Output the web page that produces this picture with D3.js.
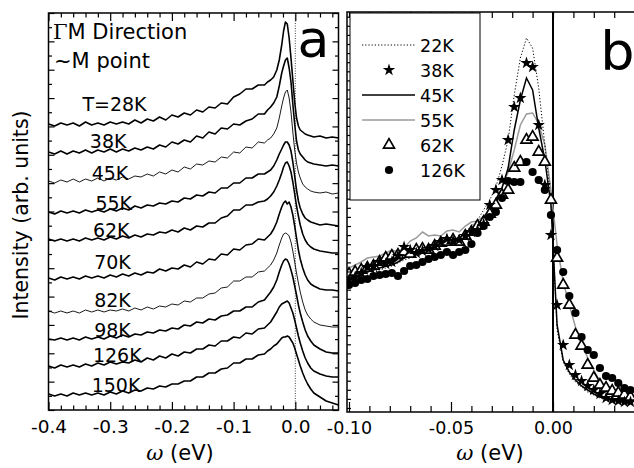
<!DOCTYPE html>
<html>
<head>
<meta charset="utf-8">
<script src="https://cdn.jsdelivr.net/npm/d3@7"></script>
<style>
body { margin: 0; background: #fff; }
text { font-family: "DejaVu Sans", sans-serif; fill: #000; }
</style>
</head>
<body>
<script>
// ---- panel a : stacked EDCs, gamma-M direction near M ----
var energyA = [-0.40,-0.39,-0.38,-0.37,-0.36,-0.35,-0.34,-0.33,-0.32,-0.31,-0.30,-0.29,-0.28,-0.27,-0.26,-0.25,-0.24,-0.23,-0.22,-0.21,-0.20,-0.19,-0.18,-0.17,-0.16,-0.15,-0.14,-0.13,-0.12,-0.11,-0.10,-0.09,-0.08,-0.07,-0.06,-0.05,
  -0.045,-0.04,-0.035,-0.03,-0.026,-0.022,-0.019,-0.016,-0.013,-0.010,-0.007,-0.004,-0.001,0.002,0.005,0.008,0.012,0.016,0.020,0.025,0.030,0.040,0.050,0.060,0.070];

// intensities already include the vertical offsets
var edc28 = [286,284,287,285,287,284,288,285,287,285,288,286,288,286,290,287,291,289,293,290,295,293,297,295,300,298,303,302,307,306,313,316,321,321,325,325,
  328,330,333,340,350,365,379,388,386,372,352,330,308,292,284,280,278,276,275,274,273,274,272,273,272];
var edc38 = [258,256,259,256,259,257,260,257,260,258,261,258,261,259,262,260,263,261,265,263,268,266,270,268,274,272,278,276,282,281,286,285,289,291,296,296,
  300,303,307,313,324,337,344,350,352,342,328,306,286,269,260,256,253,250,248,247,246,245,244,245,244];
var edc45 = [229,227,230,228,231,228,231,229,232,229,232,230,233,231,234,233,236,234,238,236,240,238,243,241,246,245,249,248,253,252,258,257,263,262,268,267,
  270,272,276,282,292,304,312,318,320,312,298,278,260,247,238,232,226,223,221,219,218,217,218,216,217];
var edc55 = [198,196,199,197,199,197,200,198,200,198,201,199,202,200,204,202,205,204,207,206,209,208,212,211,215,214,218,217,222,222,227,227,232,232,236,236,
  238,240,244,250,256,261,265,268,268,265,259,248,234,220,209,202,196,192,190,188,187,185,186,185,184];
var edc62 = [171,169,171,169,171,169,172,170,172,170,173,171,174,172,175,173,176,175,178,177,180,178,182,180,184,183,187,187,192,194,200,200,205,205,208,209,
  211,214,218,224,230,237,243,247,248,244,238,228,216,204,194,185,176,170,166,163,161,159,158,157,157];
var edc70 = [132,130,133,131,133,131,134,132,134,132,135,133,136,134,137,135,138,137,141,139,142,141,145,143,148,146,151,150,156,155,161,160,165,166,171,170,
  173,176,181,188,196,203,207,209,206,208,203,195,184,172,160,151,142,135,130,126,124,121,120,120,119];
var edc82 = [99,97,99,97,99,97,100,98,100,98,100,99,101,99,102,100,103,101,104,103,106,105,109,108,112,112,116,117,122,123,129,129,133,133,138,139,
  142,145,150,157,165,172,176,177,176,174,168,159,148,137,127,118,108,100,95,91,88,85,84,83,83];
var edc98 = [71,70,72,70,72,70,73,71,73,71,74,72,75,73,76,75,78,77,80,79,82,81,85,84,88,87,91,90,94,95,99,99,103,103,108,110,
  114,118,123,130,138,145,149,151,150,146,140,133,124,115,105,97,88,80,74,69,65,61,58,57,57];
var edc126 = [44,42,45,43,45,43,46,44,47,45,48,46,48,47,50,48,52,50,54,52,56,54,58,57,61,61,65,64,69,69,73,72,77,76,81,82,
  85,88,93,98,103,106,107,108,109,107,102,97,90,82,74,67,59,52,47,42,39,36,34,33,33];
var edc150 = [16,14,16,14,17,15,17,15,17,15,18,16,19,17,20,19,22,21,24,23,26,26,29,29,33,33,37,37,41,42,47,47,51,51,55,56,
  59,61,64,66,69,72,73,73,74,73,70,67,62,56,50,44,37,31,26,21,17,13,9,7,5];

var labelsA = ["T=28K","38K","45K","55K","62K","70K","82K","98K","126K","150K"];
var labelE = [-0.345,-0.333,-0.330,-0.324,-0.328,-0.326,-0.326,-0.326,-0.328,-0.330];
var labelI = [299,262,230,200,173,141,103,73,48,18];

// ---- panel b : EDCs at several temperatures, overlaid ----
var energyB = [-0.100,-0.097,-0.094,-0.091,-0.088,-0.085,-0.082,-0.079,-0.076,-0.073,-0.070,-0.067,-0.064,-0.061,-0.058,-0.055,-0.052,-0.049,-0.046,-0.043,
  -0.040,-0.037,-0.034,-0.031,-0.028,-0.025,-0.022,-0.019,-0.016,-0.013,-0.010,-0.007,-0.004,-0.001,0.002,0.005,0.008,0.011,0.014,0.017,
  0.020,0.023,0.026,0.029,0.032,0.035,0.038];
var b22 = [130,133,135,137,139,142,144,146,149,152,154,157,160,162,164,167,170,172,176,180,186,192,202,212,225,246,272,317,354,374,
  364,324,267,212,82,50,38,30,25,20,17,14,12,11,10,9,8];
var b38 = [132,135,139,145,146,150,148,150,156,165,162,159,161,163,166,170,173,171,172,176,180,182,188,207,222,232,272,305,314,349,
  345,287,227,177,107,67,47,37,31,26,22,18,14,12,11,10,10];
var b45 = [134,136,138,140,142,144,146,147,150,154,156,159,162,162,165,168,170,172,174,177,181,185,190,198,209,224,244,282,312,334,
  322,284,252,207,87,52,40,32,26,22,18,15,13,12,11,10,9];
var b55 = [144,147,150,154,155,156,159,162,160,164,171,174,180,176,177,176,181,182,180,186,190,191,196,201,212,225,240,262,287,298,
  299,288,267,222,167,130,107,85,70,54,42,31,25,20,16,14,12];
var b62 = [138,140,142,144,146,150,154,156,157,160,158,162,163,162,166,169,170,172,170,176,180,186,190,198,207,217,222,244,250,272,
  275,260,250,212,154,127,107,77,66,47,34,27,24,21,19,17,15];
var b126 = [127,129,132,133,136,137,138,139,136,141,146,147,150,153,155,157,160,157,160,162,168,179,186,195,200,214,231,230,230,250,
  240,232,222,197,162,140,116,99,75,62,57,44,36,34,29,24,22];
var legendB = ["22K","38K","45K","55K","62K","126K"];

var svg = d3.select("body").append("svg")
    .attr("width", 634)
    .attr("height", 468);

function tickRow(axisFn, scale, vals, size, transform) {
    svg.append("g").attr("transform", transform)
        .call(axisFn(scale).tickValues(vals).tickSize(size).tickFormat(""))
        .call(g => g.select(".domain").remove())
        .selectAll("line").attr("stroke-width", 1.2);
}

// ================= panel a =================
var xA = d3.scaleLinear().domain([-0.4, 0.07]).range([48.5, 338.5]);
var yA = d3.scaleLinear().domain([0, 397]).range([410, 13]);

svg.append("clipPath").attr("id", "clipA").append("rect")
    .attr("x", 48.5).attr("y", 13).attr("width", 290).attr("height", 397);

// Fermi level
svg.append("line")
    .attr("x1", xA(0)).attr("x2", xA(0)).attr("y1", 13).attr("y2", 410)
    .attr("stroke", "#444").attr("stroke-width", 1).attr("stroke-dasharray", "1,1.5");

var curvesA = [edc28, edc38, edc45, edc55, edc62, edc70, edc82, edc98, edc126, edc150];
var lineA = d3.line().x((d, i) => xA(energyA[i])).y(d => yA(d));

svg.append("g").attr("clip-path", "url(#clipA)")
    .selectAll("path").data(curvesA).enter().append("path")
    .attr("d", lineA)
    .attr("fill", "none")
    .attr("stroke", "#000")
    .attr("stroke-linejoin", "round")
    .attr("stroke-width", (d, i) => (labelsA[i] == "45K" || labelsA[i] == "82K") ? 0.9 : 1.6);

svg.append("g").selectAll("text").data(labelsA).enter().append("text")
    .attr("x", (d, i) => xA(labelE[i]))
    .attr("y", (d, i) => yA(labelI[i]))
    .style("font-size", "19px")
    .text(d => d);

var majA = [-0.4, -0.3, -0.2, -0.1, 0.0];
var minA = d3.range(-0.38, 0.07, 0.02).filter(v => Math.abs(v * 10 - Math.round(v * 10)) > 0.01);
var yTicksA = d3.range(0, 29).map(i => i * 397 / 28);

tickRow(d3.axisBottom, xA, majA, -8, "translate(0,410)");
tickRow(d3.axisBottom, xA, minA, -4.5, "translate(0,410)");
tickRow(d3.axisTop, xA, majA, -8, "translate(0,13)");
tickRow(d3.axisTop, xA, minA, -4.5, "translate(0,13)");
tickRow(d3.axisLeft, yA, yTicksA.filter((d, i) => i % 2 == 0), -6, "translate(48.5,0)");
tickRow(d3.axisLeft, yA, yTicksA.filter((d, i) => i % 2 == 1), -3.5, "translate(48.5,0)");
tickRow(d3.axisRight, yA, yTicksA.filter((d, i) => i % 2 == 0), -6, "translate(338.5,0)");
tickRow(d3.axisRight, yA, yTicksA.filter((d, i) => i % 2 == 1), -3.5, "translate(338.5,0)");

svg.append("g").attr("transform", "translate(0,410)")
    .call(d3.axisBottom(xA).tickValues(majA).tickSize(0).tickPadding(10).tickFormat(d => d.toFixed(1)))
    .call(g => g.select(".domain").remove())
    .attr("font-family", null).attr("font-size", null)
    .selectAll("text").style("font-size", "18.5px");

svg.append("rect")
    .attr("x", 48.5).attr("y", 13).attr("width", 290).attr("height", 397)
    .attr("fill", "none").attr("stroke", "#000").attr("stroke-width", 1.5);

var title = svg.append("text").attr("x", 53).attr("y", 39).style("font-size", "21px");
title.append("tspan").style("font-family", "DejaVu Serif").text("\u0393");
title.append("tspan").text("M Direction");
svg.append("text").attr("x", 54).attr("y", 68).style("font-size", "21px").text("~M point");

svg.append("text").attr("x", 313.5).attr("y", 57).attr("text-anchor", "middle")
    .style("font-size", "52px").text("a");

svg.append("text")
    .attr("transform", "translate(28,215) rotate(-90)")
    .attr("text-anchor", "middle")
    .style("font-size", "20.5px")
    .text("Intensity (arb. units)");

function omegaTitle(x) {
    var t = svg.append("text").attr("x", x).attr("y", 460).attr("text-anchor", "middle").style("font-size", "21px");
    t.append("tspan").style("font-family", "DejaVu Serif").style("font-style", "italic").text("\u03c9");
    t.append("tspan").text(" (eV)");
}
omegaTitle(180);

// ================= panel b =================
var xB = d3.scaleLinear().domain([-0.1, 0.04]).range([349, 634.6]);
var yB = d3.scaleLinear().domain([0, 400]).range([412, 12]);

svg.append("clipPath").attr("id", "clipB").append("rect")
    .attr("x", 347).attr("y", 12).attr("width", 300).attr("height", 400);

var lineB = d3.line().x((d, i) => xB(energyB[i])).y(d => yB(d));
var gB = svg.append("g").attr("clip-path", "url(#clipB)");

gB.append("line")
    .attr("x1", xB(0)).attr("x2", xB(0)).attr("y1", 12).attr("y2", 412)
    .attr("stroke", "#000").attr("stroke-width", 2);

gB.append("path").attr("d", lineB(b55)).attr("fill", "none")
    .attr("stroke", "#9a9a9a").attr("stroke-width", 1.5);
gB.append("path").attr("d", lineB(b22)).attr("fill", "none")
    .attr("stroke", "#000").attr("stroke-width", 1).attr("stroke-dasharray", "1.2,2");
gB.append("path").attr("d", lineB(b45)).attr("fill", "none")
    .attr("stroke", "#000").attr("stroke-width", 1.5);

var triSym = d3.symbol().type(d3.symbolTriangle).size(52);
var starSym = d3.symbol().type(d3.symbolStar).size(48);

gB.selectAll(".tri").data(b62).enter().append("path").attr("class", "tri")
    .attr("d", triSym)
    .attr("transform", (d, i) => "translate(" + xB(energyB[i]) + "," + yB(d) + ")")
    .attr("fill", "#fff").attr("stroke", "#000").attr("stroke-width", 1.7);
gB.selectAll(".dot").data(b126).enter().append("circle").attr("class", "dot")
    .attr("cx", (d, i) => xB(energyB[i])).attr("cy", d => yB(d))
    .attr("r", 4.1).attr("fill", "#000");
gB.selectAll(".star").data(b38).enter().append("path").attr("class", "star")
    .attr("d", starSym)
    .attr("transform", (d, i) => "translate(" + xB(energyB[i]) + "," + yB(d) + ")")
    .attr("fill", "#000");

var minB = d3.range(-0.09, 0.041, 0.01).filter(v => Math.abs(v * 20 - Math.round(v * 20)) > 0.01);
var majB = [-0.1, -0.05, 0];
tickRow(d3.axisBottom, xB, majB, -10, "translate(0,412)");
tickRow(d3.axisBottom, xB, minB, -6, "translate(0,412)");
tickRow(d3.axisTop, xB, majB.concat(minB), -6, "translate(0,12)");
tickRow(d3.axisLeft, yB, d3.range(4, 400, 9.1), -4, "translate(347,0)");

svg.append("g").attr("transform", "translate(0,412)")
    .call(d3.axisBottom(xB).tickValues(majB).tickSize(0).tickPadding(10).tickFormat(d => d.toFixed(2)))
    .call(g => g.select(".domain").remove())
    .attr("font-family", null).attr("font-size", null)
    .selectAll("text").style("font-size", "17.5px");

svg.append("rect")
    .attr("x", 347).attr("y", 12).attr("width", 320).attr("height", 400)
    .attr("fill", "none").attr("stroke", "#000").attr("stroke-width", 1.5);

// legend
var leg = svg.append("g");
leg.append("rect").attr("x", 350).attr("y", 13).attr("width", 130).attr("height", 187)
    .attr("fill", "#fff").attr("stroke", "#000").attr("stroke-width", 1);
var rowY = legendB.map((d, i) => 45 + i * 25);
leg.append("line").attr("x1", 362).attr("x2", 415).attr("y1", rowY[0]).attr("y2", rowY[0])
    .attr("stroke", "#000").attr("stroke-dasharray", "1.2,2");
leg.append("path").attr("d", starSym).attr("transform", "translate(389," + rowY[1] + ")");
leg.append("line").attr("x1", 362).attr("x2", 415).attr("y1", rowY[2]).attr("y2", rowY[2])
    .attr("stroke", "#000").attr("stroke-width", 1.5);
leg.append("line").attr("x1", 362).attr("x2", 415).attr("y1", rowY[3]).attr("y2", rowY[3])
    .attr("stroke", "#9a9a9a").attr("stroke-width", 1.5);
leg.append("path").attr("d", triSym).attr("transform", "translate(389," + rowY[4] + ")")
    .attr("fill", "#fff").attr("stroke", "#000").attr("stroke-width", 1.7);
leg.append("circle").attr("cx", 389).attr("cy", rowY[5]).attr("r", 4.1);
leg.selectAll("text").data(legendB).enter().append("text")
    .attr("x", 420).attr("y", (d, i) => rowY[i] + 7)
    .style("font-size", "17.5px").text(d => d);

svg.append("text").attr("x", 617.5).attr("y", 70).attr("text-anchor", "middle")
    .style("font-size", "54px").text("b");

omegaTitle(490);
</script>
</body>
</html>
